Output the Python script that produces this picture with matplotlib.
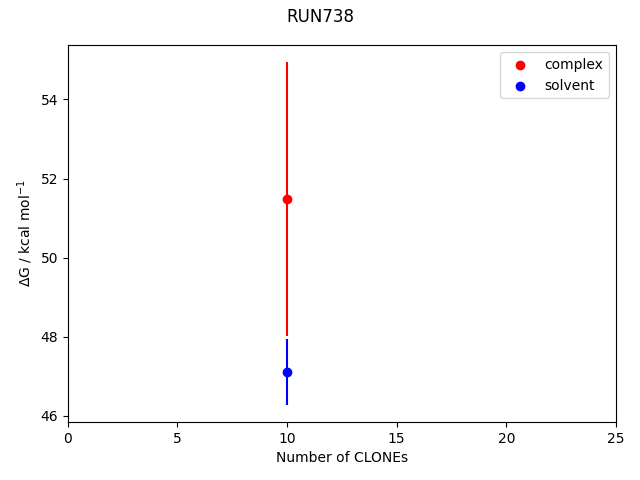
import matplotlib
matplotlib.use("Agg")
import matplotlib.pyplot as plt

run_name = "RUN738"
phases = ["complex", "solvent"]
colors = ["red", "blue"]
n_clones = [10, 10]
dg_values = [51.48, 47.11]
dg_errors = [3.46, 0.83]

fig = plt.figure(figsize=(6.4, 4.8), dpi=100)
for phase, color, n, dg, err in zip(phases, colors, n_clones, dg_values, dg_errors):
    plt.scatter(n, dg, color=color, label=phase)
    plt.errorbar(n, dg, yerr=err, color=color)

plt.xlim(0, 25)
plt.xlabel("Number of CLONEs")
plt.ylabel(r"$\Delta$G / kcal mol$^{-1}$")
plt.legend(loc="upper right")
fig.suptitle(run_name, y=0.984)
plt.subplots_adjust(left=0.106, right=0.9625, top=0.906, bottom=0.121)
plt.savefig("out.png")
plt.close()
